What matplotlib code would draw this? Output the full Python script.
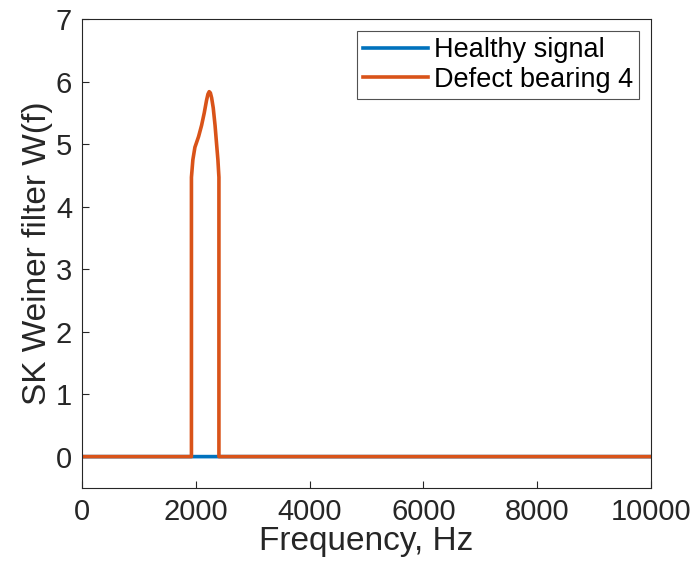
import numpy as np
import matplotlib
matplotlib.use("Agg")
import matplotlib.pyplot as plt

plt.rcParams["font.family"] = ["Liberation Sans", "DejaVu Sans"]

# frequency axis samples (Hz)
freq_edges = [0, 1925, 1925, 1950, 1986, 2050, 2103, 2150, 2190, 2215, 2237, 2258,
              2280, 2308, 2340, 2367, 2390, 2408, 2408, 10000]
defect_vals = [0, 0, 4.47, 4.75, 4.95, 5.12, 5.30, 5.50, 5.70, 5.80, 5.84, 5.82,
               5.74, 5.58, 5.30, 5.00, 4.75, 4.47, 0, 0]
healthy_freq = [0, 10000]
healthy_vals = [0, 0]

BLUE = "#0072BD"
ORANGE = "#D95319"
AX_COLOR = "#262626"

fig = plt.figure(figsize=(6.94, 5.64), dpi=100)
ax = fig.add_axes([0.118, 0.135, 0.820, 0.831])

ax.plot(healthy_freq, healthy_vals, color=BLUE, lw=2.6, label="Healthy signal",
        snap=False)
ax.plot(freq_edges, defect_vals, color=ORANGE, lw=2.6, label="Defect bearing 4",
        snap=False)

ax.set_xlim(0, 10000)
ax.set_ylim(-0.5, 7)
ax.set_xticks(np.arange(0, 10001, 2000))
ax.set_yticks(np.arange(0, 8, 1))

ax.tick_params(direction="in", length=5, width=0.8, colors=AX_COLOR,
               labelsize=21, pad=7)
for sp in ax.spines.values():
    sp.set_color(AX_COLOR)
    sp.set_linewidth(0.8)

ax.set_xlabel("Frequency, Hz", fontsize=24, color=AX_COLOR, labelpad=0)
ax.set_ylabel("SK Weiner filter W(f)", fontsize=24, color=AX_COLOR, labelpad=2)

leg = ax.legend(loc="upper right", fontsize=19.5, frameon=True, fancybox=False,
                edgecolor=AX_COLOR, handlelength=2.4, handletextpad=0.2,
                borderpad=0.22, labelspacing=0.12, borderaxespad=0.45)
leg.get_frame().set_linewidth(0.8)

fig.savefig("out.png", dpi=100)
